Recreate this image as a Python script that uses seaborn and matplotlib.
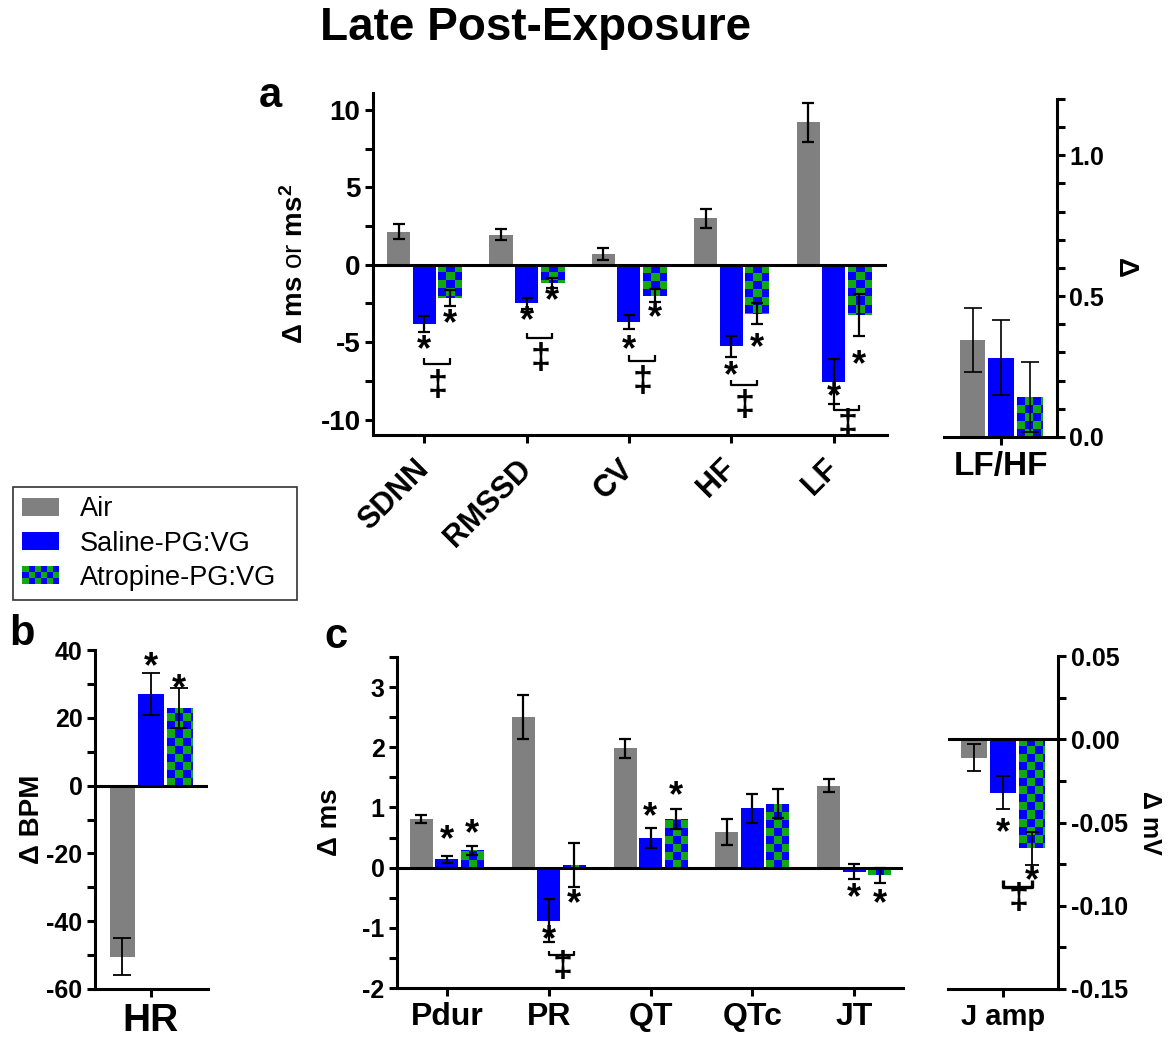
import numpy as np
import pandas as pd
import matplotlib
matplotlib.use('Agg')
import matplotlib.pyplot as plt
from matplotlib.patches import Rectangle
from matplotlib.colors import ListedColormap
from matplotlib.legend_handler import HandlerBase
from matplotlib.ticker import MultipleLocator, FormatStrFormatter
from matplotlib.transforms import offset_copy
import seaborn as sns

sns.set_theme(style='ticks')
plt.rcParams['font.family'] = ['Liberation Sans', 'DejaVu Sans']
plt.rcParams['mathtext.fontset'] = 'custom'
plt.rcParams['mathtext.rm'] = 'Liberation Sans'
plt.rcParams['mathtext.bf'] = 'Liberation Sans:bold'
plt.rcParams['mathtext.it'] = 'Liberation Sans:italic'
plt.rcParams['axes.unicode_minus'] = False
for k in ['text.color', 'axes.labelcolor', 'xtick.color', 'ytick.color',
          'axes.edgecolor']:
    plt.rcParams[k] = 'black'

# ---------------- data ----------------
groups = ['Air', 'Saline-PG:VG', 'Atropine-PG:VG']
bar_colors = ['#808080', '#0000FF', '#12A812']
checker_colors = ['#12A812', '#0000FF']

# panel a: HRV
hrv_cats = ['SDNN', 'RMSSD', 'CV', 'HF', 'LF']
hrv_air = [2.15, 1.95, 0.7, 3.0, 9.2]
hrv_air_err = [0.46, 0.33, 0.4, 0.63, 1.26]
hrv_sal = [-3.85, -2.5, -3.72, -5.28, -7.55]
hrv_sal_err = [0.52, 0.38, 0.46, 0.69, 1.47]
hrv_atr = [-2.17, -1.2, -2.0, -3.15, -3.25]
hrv_atr_err = [0.52, 0.32, 0.41, 0.67, 1.38]
hrv_star_sal = [-5.1, -3.25, -5.1, -6.75, -8.15]
hrv_star_atr = [-3.45, -1.95, -3.0, -5.0, -6.05]
hrv_bracket = [-6.4, -4.75, -6.2, -7.8, -9.4]
hrv_dagger = [-7.84, -6.11, -7.62, -9.14, -10.4]

# LF/HF
lfhf_cats = ['LF/HF']
lfhf_air = [0.344]
lfhf_air_err = [0.113]
lfhf_sal = [0.281]
lfhf_sal_err = [0.133]
lfhf_atr = [0.141]
lfhf_atr_err = [0.124]

# panel b: HR
hr_cats = ['HR']
hr_air = [-50.5]
hr_air_err = [5.5]
hr_sal = [27.1]
hr_sal_err = [6.2]
hr_atr = [22.8]
hr_atr_err = [5.9]
hr_star_sal = [36.8]
hr_star_atr = [30.4]

# panel c: ECG intervals
ecg_cats = ['Pdur', 'PR', 'QT', 'QTc', 'JT']
ecg_air = [0.81, 2.5, 1.98, 0.59, 1.36]
ecg_air_err = [0.07, 0.37, 0.15, 0.22, 0.11]
ecg_sal = [0.14, -0.88, 0.49, 0.99, -0.07]
ecg_sal_err = [0.055, 0.36, 0.17, 0.24, 0.125]
ecg_atr = [0.285, 0.045, 0.81, 1.06, -0.125]
ecg_atr_err = [0.07, 0.37, 0.16, 0.24, 0.125]
ecg_star_sal = [0.57, -1.1, 0.94, None, -0.4]
ecg_star_atr = [0.67, -0.5, 1.29, None, -0.5]
ecg_bracket = [None, -1.45, None, None, None]
ecg_dagger = [None, -1.66, None, None, None]

# J amplitude
j_cats = ['J amp']
j_air = [-0.011]
j_air_err = [0.0083]
j_sal = [-0.032]
j_sal_err = [0.0097]
j_atr = [-0.0656]
j_atr_err = [0.0097]
j_star_sal = [-0.0525]
j_star_atr = [-0.0815]
j_bracket = [-0.0885]
j_dagger = [-0.0965]

# ---------------- figure ----------------
W, H = 1171, 1038
fig = plt.figure(figsize=(W / 100, H / 100), dpi=100)


def px_axes(l, t, r, b):
    return fig.add_axes([l / W, 1 - b / H, (r - l) / W, (b - t) / H])


ax_a = px_axes(373, 93, 887, 435)
ax_r = px_axes(944, 99, 1057, 437)
ax_b = px_axes(95, 650, 208, 989)
ax_c = px_axes(397, 657, 903, 988)
ax_j = px_axes(948, 656, 1058, 989)

LW = 2.2


def make_df(cats, air, sal, atr):
    rows = []
    for g, vals in zip(groups, [air, sal, atr]):
        for c, v in zip(cats, vals):
            rows.append({'cat': c, 'group': g, 'value': v})
    return pd.DataFrame(rows)


def draw(ax, cats, vals, errs, capsize, elw):
    df = make_df(cats, *vals)
    sns.barplot(data=df, x='cat', y='value', hue='group', order=cats,
                hue_order=groups, palette=bar_colors, saturation=1,
                width=0.75, gap=0.1, errorbar=None, legend=False, ax=ax,
                linewidth=0, edgecolor='none')
    centers = []
    for cont, v, e in zip(ax.containers, vals, errs):
        xs = [p.get_x() + p.get_width() / 2 for p in cont]
        centers.append(xs)
        ax.errorbar(xs, v, yerr=e, fmt='none', ecolor='black', elinewidth=elw,
                    capsize=capsize, capthick=elw, zorder=4)
    ax.set_xlabel('')
    ax.set_ylabel('')
    return centers


def style(ax, right=False, zero=True, ylabelsize=18):
    sns.despine(ax=ax, left=right, right=not right, top=True)
    if right:
        ax.yaxis.tick_right()
        ax.yaxis.set_label_position('right')
    for s in ['left', 'right', 'bottom']:
        ax.spines[s].set_linewidth(LW)
        ax.spines[s].set_color('black')
    ax.tick_params(which='both', direction='out', width=LW, length=6, color='black')
    ax.tick_params(axis='y', labelsize=ylabelsize, pad=3)
    for lbl in ax.get_yticklabels():
        lbl.set_fontweight('bold')
    if zero:
        ax.axhline(0, color='black', lw=LW, zorder=3)


def checker(ax, cont, size=8):
    for p in cont:
        xa = p.get_x(); xb = xa + p.get_width()
        y0 = p.get_y(); y1 = y0 + p.get_height()
        ya, yb = min(y0, y1), max(y0, y1)
        (px0, py0) = ax.transData.transform((xa, ya))
        (px1, py1) = ax.transData.transform((xb, yb))
        nx = int(np.ceil((px1 - px0) / size)) + 1
        ny = int(np.ceil((py1 - py0) / size)) + 1
        dx = (xb - xa) / ((px1 - px0) / size)
        dy = (yb - ya) / ((py1 - py0) / size)
        arr = np.add.outer(np.arange(ny), np.arange(nx)) % 2
        if y1 < 0 or y0 < 0:
            ext = [xa, xa + nx * dx, 0 - ny * dy, 0]
        else:
            ext = [xa, xa + nx * dx, 0, ny * dy]
        im = ax.imshow(arr, cmap=ListedColormap(checker_colors), extent=ext,
                       origin='upper', interpolation='nearest', aspect='auto',
                       zorder=1.5)
        im.set_clip_path(p)


def star(ax, x, y, size=26):
    tr = offset_copy(ax.transData, fig=fig, x=0, y=-6, units='dots')
    ax.text(x, y, r'$\mathbf{*}$', ha='center', va='center', fontsize=size,
            zorder=5, transform=tr)


def bracket(ax, x1, x2, y, dagger_y, h, size=26, lw=1.6):
    ax.plot([x1, x1, x2, x2], [y + h, y, y, y + h], color='black', lw=lw,
            zorder=5, solid_capstyle='butt')
    ax.text((x1 + x2) / 2, dagger_y, '$\\mathbf{\u2021}$', ha='center',
            va='center', fontsize=size, zorder=5)


def xlabels(ax, size, pad=4):
    ax.tick_params(axis='x', labelsize=size, pad=pad)
    for lbl in ax.get_xticklabels():
        lbl.set_fontweight('bold')


# ---- panel a ----
ca = draw(ax_a, hrv_cats, [hrv_air, hrv_sal, hrv_atr],
          [hrv_air_err, hrv_sal_err, hrv_atr_err], 4.3, 1.6)
ax_a.set_xlim(-0.5, 4.52)
ax_a.set_ylim(-11, 11.1)
ax_a.set_yticks([-10, -5, 0, 5, 10])
ax_a.yaxis.set_minor_locator(MultipleLocator(2.5))
style(ax_a, ylabelsize=20)
xlabels(ax_a, 22, pad=15)
for lbl in ax_a.get_xticklabels():
    lbl.set_rotation(45)
    lbl.set_ha('right')
    lbl.set_va('center')
    lbl.set_rotation_mode('anchor')
ax_a.set_ylabel(r'$\mathbf{\Delta\ ms}$ or $\mathbf{ms^2}$', fontsize=20)
ax_a.yaxis.set_label_coords(-0.125, 0.5)
for i in range(len(hrv_cats)):
    star(ax_a, ca[1][i], hrv_star_sal[i])
    star(ax_a, ca[2][i], hrv_star_atr[i])
    bracket(ax_a, ca[1][i], ca[2][i], hrv_bracket[i], hrv_dagger[i], 0.35)

# ---- LF/HF ----
cr = draw(ax_r, lfhf_cats, [lfhf_air, lfhf_sal, lfhf_atr],
          [lfhf_air_err, lfhf_sal_err, lfhf_atr_err], 6.5, 1.2)
ax_r.set_xlim(-0.5, 0.49)
ax_r.set_ylim(0, 1.2)
ax_r.set_yticks([0, 0.5, 1.0])
ax_r.yaxis.set_major_formatter(FormatStrFormatter('%.1f'))
ax_r.yaxis.set_minor_locator(MultipleLocator(0.1))
style(ax_r, right=True, zero=False)
xlabels(ax_r, 24)
ax_r.set_ylabel('\u0394', fontsize=20, fontweight='bold', rotation=270,
                va='bottom')
ax_r.yaxis.set_label_coords(1.49, 0.5)

# ---- panel b ----
cb = draw(ax_b, hr_cats, [hr_air, hr_sal, hr_atr],
          [hr_air_err, hr_sal_err, hr_atr_err], 6.5, 1.3)
ax_b.set_xlim(-0.49, 0.5)
ax_b.set_ylim(-60, 40)
ax_b.set_yticks([-60, -40, -20, 0, 20, 40])
ax_b.yaxis.set_minor_locator(MultipleLocator(10))
style(ax_b)
xlabels(ax_b, 28)
ax_b.set_ylabel('\u0394 BPM', fontsize=20, fontweight='bold')
ax_b.yaxis.set_label_coords(-0.44, 0.5)
star(ax_b, cb[1][0], hr_star_sal[0])
star(ax_b, cb[2][0], hr_star_atr[0])

# ---- panel c ----
cc = draw(ax_c, ecg_cats, [ecg_air, ecg_sal, ecg_atr],
          [ecg_air_err, ecg_sal_err, ecg_atr_err], 4.3, 1.6)
ax_c.set_xlim(-0.49, 4.48)
ax_c.set_ylim(-2, 3.5)
ax_c.set_yticks([-2, -1, 0, 1, 2, 3])
ax_c.yaxis.set_minor_locator(MultipleLocator(0.5))
style(ax_c)
xlabels(ax_c, 23)
ax_c.set_ylabel('\u0394 ms', fontsize=20, fontweight='bold')
ax_c.yaxis.set_label_coords(-0.107, 0.5)
for i in range(len(ecg_cats)):
    if ecg_star_sal[i] is not None:
        star(ax_c, cc[1][i], ecg_star_sal[i])
    if ecg_star_atr[i] is not None:
        star(ax_c, cc[2][i], ecg_star_atr[i])
    if ecg_bracket[i] is not None:
        bracket(ax_c, cc[1][i], cc[2][i], ecg_bracket[i], ecg_dagger[i], 0.07)

# ---- J amp ----
cj = draw(ax_j, j_cats, [j_air, j_sal, j_atr],
          [j_air_err, j_sal_err, j_atr_err], 5, 1.3)
ax_j.set_xlim(-0.48, 0.48)
ax_j.set_ylim(-0.15, 0.05)
ax_j.set_yticks([-0.15, -0.10, -0.05, 0.0, 0.05])
ax_j.yaxis.set_major_formatter(FormatStrFormatter('%.2f'))
ax_j.yaxis.set_minor_locator(MultipleLocator(0.025))
style(ax_j, right=True)
xlabels(ax_j, 21)
ax_j.set_ylabel('\u0394 mV', fontsize=18, fontweight='bold', rotation=270,
                va='bottom')
ax_j.yaxis.set_label_coords(1.725, 0.5)
star(ax_j, cj[1][0], j_star_sal[0])
star(ax_j, cj[2][0], j_star_atr[0])
bracket(ax_j, cj[1][0], cj[2][0], j_bracket[0], j_dagger[0], 0.004, lw=2.4)

# checkerboard fill for atropine bars
for ax, lim in [(ax_a, ((-0.5, 4.52), (-11, 11.1))), (ax_r, ((-0.5, 0.49), (0, 1.2))),
                (ax_b, ((-0.49, 0.5), (-60, 40))), (ax_c, ((-0.49, 4.48), (-2, 3.5))),
                (ax_j, ((-0.48, 0.48), (-0.15, 0.05)))]:
    checker(ax, ax.containers[2])
    ax.set_xlim(*lim[0])
    ax.set_ylim(*lim[1])


# ---------------- legend ----------------
class CheckerHandler(HandlerBase):
    def create_artists(self, legend, orig_handle, xdescent, ydescent, width,
                       height, fontsize, trans):
        arts = []
        nx, ny = 6, 3
        cw, ch = width / nx, height / ny
        for i in range(nx):
            for j in range(ny):
                r = Rectangle((-xdescent + i * cw, -ydescent + j * ch), cw, ch,
                              facecolor=checker_colors[(i + j) % 2],
                              edgecolor='none', transform=trans)
                arts.append(r)
        return arts


handles = [Rectangle((0, 0), 1, 1, facecolor=bar_colors[0], edgecolor='none'),
           Rectangle((0, 0), 1, 1, facecolor=bar_colors[1], edgecolor='none'),
           Rectangle((0, 0), 1, 1, facecolor=bar_colors[2], edgecolor='none')]
leg = fig.legend(handles, groups, loc='upper left', mode='expand',
                 bbox_to_anchor=(13 / W, 1 - 600 / H, 284 / W, 113 / H),
                 fontsize=19.5,
                 frameon=True, fancybox=False, edgecolor='black',
                 handlelength=1.34, handleheight=0.66, handletextpad=0.78,
                 labelspacing=0.3, borderpad=0.35, borderaxespad=0,
                 handler_map={handles[2]: CheckerHandler()})
leg.get_frame().set_linewidth(1.2)

# ---------------- titles ----------------
fig.text(536 / W, 1 - 28 / H, 'Late Post-Exposure', ha='center', va='center',
         fontsize=33, fontweight='bold')
fig.text(270 / W, 1 - 96 / H, 'a', ha='center', va='center', fontsize=30,
         fontweight='bold')
fig.text(22 / W, 1 - 634 / H, 'b', ha='center', va='center', fontsize=30,
         fontweight='bold')
fig.text(336 / W, 1 - 637 / H, 'c', ha='center', va='center', fontsize=30,
         fontweight='bold')

fig.savefig('out.png', dpi=100)
